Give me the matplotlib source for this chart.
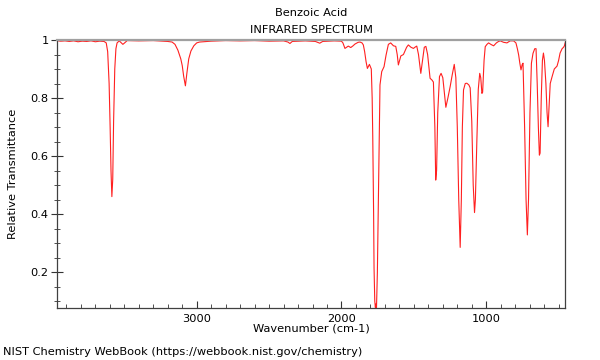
import matplotlib
matplotlib.use('Agg')
import matplotlib.pyplot as plt
from matplotlib.ticker import MultipleLocator, FormatStrFormatter

# points (wavenumber cm-1, transmittance)
wavenumber = [3966, 3940, 3910, 3880, 3850, 3820, 3790, 3760, 3730, 3700,
              3670, 3640, 3625, 3615, 3605, 3598, 3592, 3586, 3580, 3574,
              3566, 3558, 3550, 3535, 3520, 3510, 3498, 3480, 3400, 3300,
              3200, 3170, 3150, 3130, 3110, 3100, 3090, 3078, 3068, 3055,
              3040, 3020, 3000, 2980, 2900, 2800, 2700, 2600, 2500, 2400,
              2370, 2356, 2340, 2250, 2180, 2150, 2130, 2050, 2000, 1990,
              1976, 1962, 1953, 1936, 1920, 1907, 1885, 1872, 1858, 1849,
              1840, 1830, 1821, 1807, 1798, 1794, 1788, 1784, 1778, 1775,
              1770, 1766, 1762, 1758, 1752, 1745, 1738, 1734, 1722, 1706,
              1692, 1676, 1660, 1650, 1641, 1625, 1615, 1607, 1598, 1590,
              1572, 1550, 1538, 1520, 1503, 1490, 1480, 1468, 1452, 1440,
              1428, 1417, 1405, 1388, 1375, 1365, 1355, 1349, 1343, 1335,
              1323, 1312, 1300, 1290, 1279, 1265, 1249, 1235, 1221, 1210,
              1200, 1190, 1180, 1172, 1165, 1157, 1145, 1134, 1120, 1111,
              1100, 1090, 1081, 1075, 1065, 1055, 1045, 1038, 1030, 1025,
              1015, 1007, 995, 984, 965, 949, 930, 915, 903, 880,
              857, 835, 811, 795, 785, 776, 768, 760, 752, 746,
              735, 725, 716, 708, 698, 688, 677, 665, 656, 648,
              640, 633, 628, 620, 612, 605, 598, 588, 580, 573,
              565, 558, 545, 530, 511, 500, 490, 476, 466, 460, 455]
transmittance = [0.998, 0.996, 0.997, 0.995, 0.997, 0.994, 0.996, 0.995, 0.997, 0.994,
                 0.996, 0.995, 0.990, 0.960, 0.850, 0.700, 0.550, 0.460, 0.520, 0.720,
                 0.900, 0.970, 0.990, 0.997, 0.990, 0.985, 0.990, 0.998, 0.997, 0.998,
                 0.995, 0.993, 0.985, 0.965, 0.935, 0.912, 0.875, 0.842, 0.885, 0.935,
                 0.962, 0.980, 0.990, 0.993, 0.996, 0.998, 0.997, 0.998, 0.996, 0.997,
                 0.993, 0.988, 0.995, 0.997, 0.995, 0.989, 0.995, 0.997, 0.996, 0.990,
                 0.971, 0.976, 0.979, 0.974, 0.980, 0.986, 0.992, 0.993, 0.990, 0.983,
                 0.960, 0.925, 0.902, 0.916, 0.905, 0.900, 0.800, 0.670, 0.400, 0.214,
                 0.100, 0.078, 0.090, 0.078, 0.200, 0.442, 0.700, 0.845, 0.891, 0.908,
                 0.948, 0.985, 0.990, 0.985, 0.980, 0.978, 0.950, 0.914, 0.930, 0.945,
                 0.950, 0.975, 0.983, 0.975, 0.971, 0.976, 0.979, 0.950, 0.885, 0.930,
                 0.975, 0.978, 0.950, 0.868, 0.862, 0.855, 0.700, 0.517, 0.550, 0.750,
                 0.874, 0.885, 0.870, 0.820, 0.768, 0.800, 0.840, 0.880, 0.916, 0.870,
                 0.700, 0.450, 0.285, 0.450, 0.700, 0.828, 0.850, 0.851, 0.845, 0.835,
                 0.720, 0.500, 0.405, 0.450, 0.650, 0.830, 0.885, 0.870, 0.816, 0.820,
                 0.930, 0.977, 0.985, 0.990, 0.984, 0.980, 0.990, 0.995, 0.997, 0.992,
                 0.990, 0.997, 0.997, 0.990, 0.970, 0.948, 0.920, 0.897, 0.915, 0.920,
                 0.700, 0.450, 0.328, 0.450, 0.750, 0.920, 0.954, 0.970, 0.970, 0.850,
                 0.700, 0.603, 0.610, 0.800, 0.930, 0.955, 0.930, 0.850, 0.750, 0.701,
                 0.780, 0.850, 0.874, 0.900, 0.910, 0.930, 0.955, 0.970, 0.975, 0.980, 0.990]

title = 'Benzoic Acid'
subtitle = 'INFRARED SPECTRUM'
footer = 'NIST Chemistry WebBook (https://webbook.nist.gov/chemistry)'
fs = 8.2

fig = plt.figure(figsize=(6, 3.6), dpi=100)
ax = fig.add_axes([57/600., 1 - 308/360., 508/600., 268/360.])

ax.plot(wavenumber, transmittance, color='#ff2020', lw=0.8)

ax.set_xlim(3965, 456)
ax.set_ylim(0.076, 1.0)
ax.xaxis.set_major_locator(MultipleLocator(1000))
ax.xaxis.set_minor_locator(MultipleLocator(100))
ax.yaxis.set_major_locator(MultipleLocator(0.2))
ax.yaxis.set_minor_locator(MultipleLocator(0.05))
ax.yaxis.set_major_formatter(FormatStrFormatter('%g'))

ax.tick_params(axis='x', which='major', direction='in', length=5, color='#333333', labelsize=fs, pad=4)
ax.tick_params(axis='x', which='minor', direction='in', length=3, color='#333333')
ax.tick_params(axis='y', which='major', direction='inout', length=8, color='#333333', labelsize=fs, pad=2)
ax.tick_params(axis='y', which='minor', direction='inout', length=5, color='#333333')

for side in ('left', 'bottom', 'right'):
    ax.spines[side].set_color('#404040')
    ax.spines[side].set_linewidth(0.9)
ax.spines['top'].set_color('#a0a0a0')
ax.spines['top'].set_linewidth(1.6)

ax.set_xlabel('Wavenumber (cm-1)', fontsize=fs, labelpad=0)
ax.set_ylabel('Relative Transmittance', fontsize=fs, labelpad=9)

fig.text(311/600., 1 - 13/360., title, ha='center', va='center', fontsize=fs)
fig.text(311/600., 1 - 30/360., subtitle, ha='center', va='center', fontsize=fs)
fig.text(3/600., 1 - 352/360., footer, ha='left', va='center', fontsize=fs)

fig.savefig('out.png', dpi=100)
